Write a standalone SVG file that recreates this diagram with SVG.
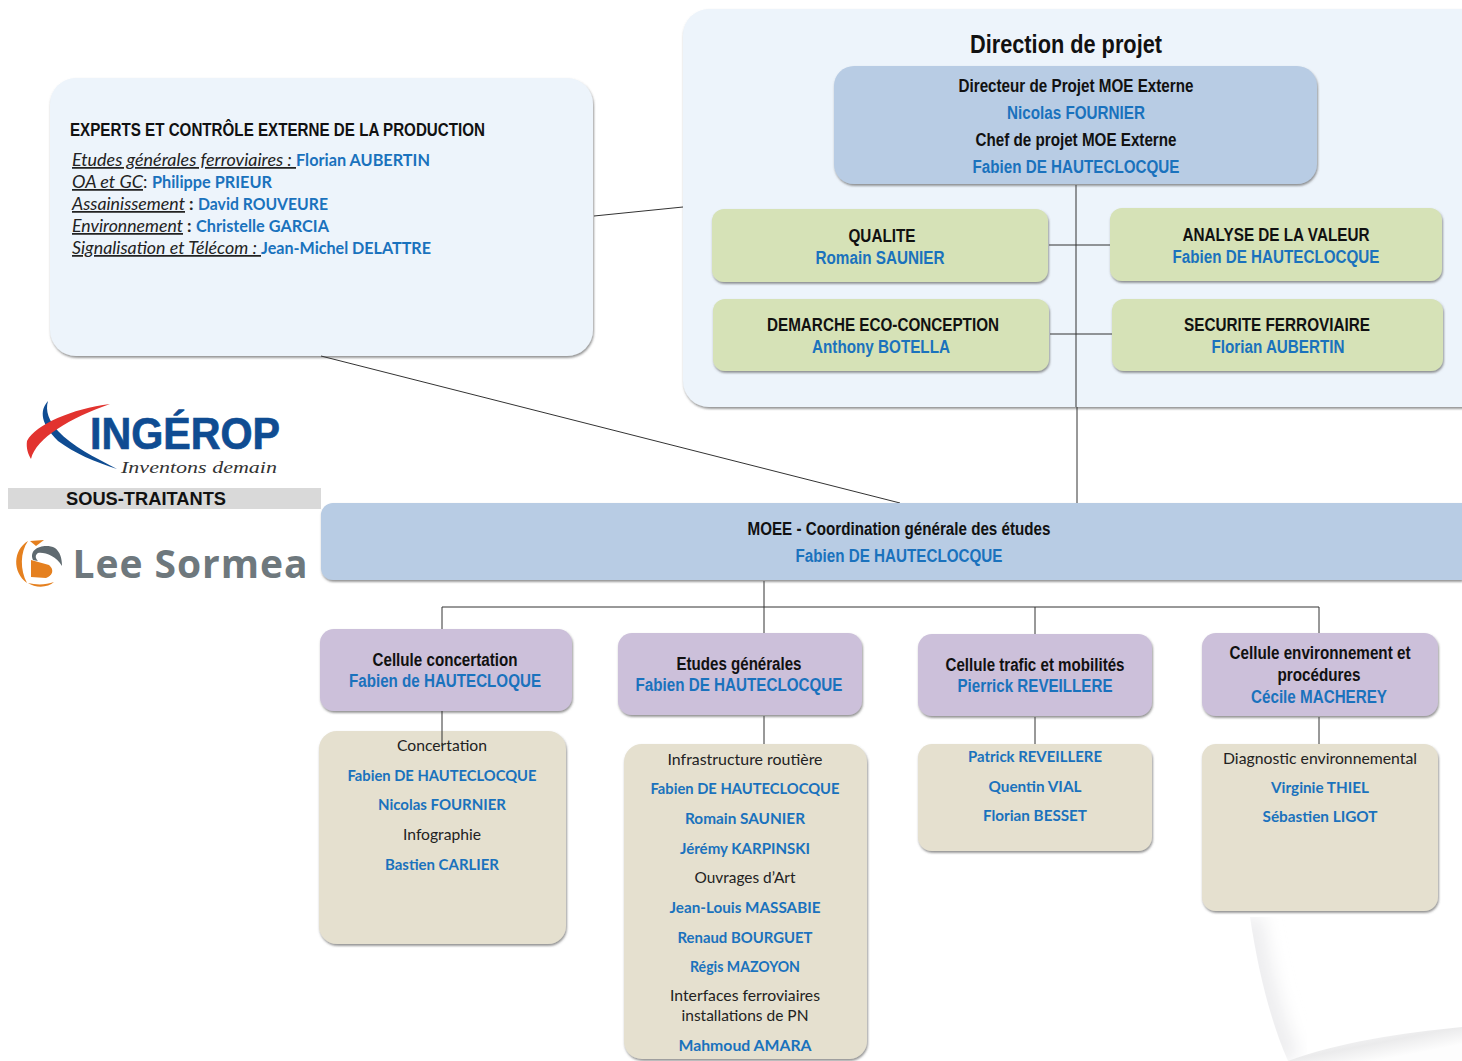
<svg xmlns="http://www.w3.org/2000/svg" width="1462" height="1061" viewBox="0 0 1462 1061">
<style>
text{font-family:"Liberation Sans",Arial,sans-serif;font-size:18px;fill:#111;text-anchor:middle}
.b{font-weight:700}
.n{font-weight:700;fill:#1a72bd}
.c{font-family:Lato,"Liberation Sans",sans-serif;font-size:16px;fill:#222}
.cn{font-family:Lato,"Liberation Sans",sans-serif;font-size:16px;font-weight:700;fill:#1a72bd}
.e{font-size:17.5px}
.l{text-anchor:start}
.u{font-style:italic;text-decoration:underline}
.pan{fill:#edf4fb;filter:url(#s)}
.blue{fill:#b8cce4;filter:url(#s)}
.green{fill:#d6e2b7;filter:url(#s)}
.pur{fill:#ccc0da;filter:url(#s)}
.bei{fill:#e5e0cf;filter:url(#s)}
.ln{stroke:#333;stroke-width:1;fill:none}
</style>
<defs>
<filter id="s" x="-5%" y="-5%" width="110%" height="115%"><feDropShadow dx="0.8" dy="1.8" stdDeviation="0.8" flood-color="#555" flood-opacity=".65"/></filter>
<filter id="bl" x="-50%" y="-50%" width="200%" height="200%"><feGaussianBlur stdDeviation="9"/></filter>
<clipPath id="c1"><path d="M1250 917C1258 970 1270 1020 1288 1061L1462 1061V917Z"/></clipPath>
<linearGradient id="f2" gradientUnits="userSpaceOnUse" x1="1370" y1="1030" x2="1376" y2="1061"><stop offset="0" stop-color="#f6f6f7"/><stop offset=".45" stop-color="#ebebec"/><stop offset="1" stop-color="#fdfdfd"/></linearGradient>
</defs>
<rect width="1462" height="1061" fill="#fff"/>
<g id="page-curl">
<path clip-path="url(#c1)" d="M1250 917C1258 970 1270 1020 1288 1061" fill="none" stroke="#ececee" stroke-width="24" filter="url(#bl)"/>
<path d="M1288 1061C1340 1042 1400 1033 1462 1027V1061Z" fill="url(#f2)"/>
</g>
<g id="panel-direction"><rect class="pan" x="683" y="9" width="820" height="398" rx="26"/><text x="1066" y="53" class="b" style="font-size:25px" textLength="192" lengthAdjust="spacingAndGlyphs">Direction de projet</text></g>
<g id="experts">
<rect class="pan" x="50" y="78" width="543" height="278" rx="26"/>
<text x="70" y="135.500" class="b l" textLength="415" lengthAdjust="spacingAndGlyphs">EXPERTS ET CONTRÔLE EXTERNE DE LA PRODUCTION</text>
<text x="72" y="166" class="c l u e" xml:space="preserve" textLength="224" lengthAdjust="spacingAndGlyphs">Etudes générales ferroviaires : </text><text x="296" y="166" class="cn l e" textLength="134" lengthAdjust="spacingAndGlyphs">Florian AUBERTIN</text>
<text x="72" y="188" class="c l u e" textLength="71" lengthAdjust="spacingAndGlyphs">OA et GC</text><text x="143" y="188" class="c l e">:</text><text x="152" y="188" class="cn l e" textLength="120" lengthAdjust="spacingAndGlyphs">Philippe PRIEUR</text>
<text x="72" y="210" class="c l u e" textLength="113" lengthAdjust="spacingAndGlyphs">Assainissement</text><text x="189" y="210" class="c l b e">:</text><text x="198" y="210" class="cn l e" textLength="130" lengthAdjust="spacingAndGlyphs">David ROUVEURE</text>
<text x="72" y="232" class="c l u e" textLength="111" lengthAdjust="spacingAndGlyphs">Environnement</text><text x="187" y="232" class="c l b e">:</text><text x="196" y="232" class="cn l e" textLength="133" lengthAdjust="spacingAndGlyphs">Christelle GARCIA</text>
<text x="72" y="254" class="c l u e" xml:space="preserve" textLength="189" lengthAdjust="spacingAndGlyphs">Signalisation et Télécom : </text><text x="261" y="254" class="cn l e" textLength="170" lengthAdjust="spacingAndGlyphs">Jean-Michel DELATTRE</text>
</g>
<g id="connectors" class="ln">
<path d="M594 216L683 207"/>
<path d="M321 356L900 503"/>
<path d="M1076 185V407"/>
<path d="M1077 407V503"/>
<path d="M1049 245H1110"/>
<path d="M1050 334H1112"/>
<path d="M442 629V607H1319V633"/>
<path d="M764 581V633"/>
<path d="M1035 607V634"/>
<path d="M764 716V744"/>
<path d="M1035 717V744"/>
<path d="M1319 717V744"/>
</g>
<g id="directeur"><rect class="blue" x="834" y="66" width="483" height="118" rx="20"/>
<text x="1076" y="91.500" class="b" textLength="235" lengthAdjust="spacingAndGlyphs">Directeur de Projet MOE Externe</text>
<text x="1076" y="119" class="n" textLength="138" lengthAdjust="spacingAndGlyphs">Nicolas FOURNIER</text>
<text x="1076" y="146" class="b" textLength="201" lengthAdjust="spacingAndGlyphs">Chef de projet MOE Externe</text>
<text x="1076" y="173" class="n" textLength="207" lengthAdjust="spacingAndGlyphs">Fabien DE HAUTECLOCQUE</text></g>
<g id="qualite"><rect class="green" x="712" y="209" width="336" height="73" rx="12"/><text x="882" y="241.500" class="b" textLength="67" lengthAdjust="spacingAndGlyphs">QUALITE</text><text x="880" y="263.500" class="n" textLength="129" lengthAdjust="spacingAndGlyphs">Romain SAUNIER</text></g>
<g id="analyse"><rect class="green" x="1110" y="208" width="332" height="73" rx="12"/><text x="1276" y="240.500" class="b" textLength="187" lengthAdjust="spacingAndGlyphs">ANALYSE DE LA VALEUR</text><text x="1276" y="262.500" class="n" textLength="207" lengthAdjust="spacingAndGlyphs">Fabien DE HAUTECLOCQUE</text></g>
<g id="eco"><rect class="green" x="713" y="299" width="336" height="72" rx="12"/><text x="883" y="331" class="b" textLength="232" lengthAdjust="spacingAndGlyphs">DEMARCHE ECO-CONCEPTION</text><text x="881" y="352.500" class="n" textLength="138" lengthAdjust="spacingAndGlyphs">Anthony BOTELLA</text></g>
<g id="securite"><rect class="green" x="1112" y="299" width="331" height="72" rx="12"/><text x="1277" y="331" class="b" textLength="186" lengthAdjust="spacingAndGlyphs">SECURITE FERROVIAIRE</text><text x="1278" y="352.500" class="n" textLength="133" lengthAdjust="spacingAndGlyphs">Florian AUBERTIN</text></g>
<g id="logo-ingerop">
<path d="M48 401C39 411 41 424 58 441C74 453 95 462 117 469C94 457 72 446 58 431C49 421 45 411 48 401Z" fill="#0f4c92"/>
<path d="M110 404C72 409 36 424 27 441C26 448 28 454 31 459C36 438 70 418 110 404Z" fill="#e2332f"/>
<text x="185" y="449" class="b" style="font-size:44px;fill:#0f4c92;stroke:#0f4c92;stroke-width:.7" textLength="190" lengthAdjust="spacingAndGlyphs">INGÉROP</text>
<text x="199" y="473" style="font-family:'Liberation Serif',serif;font-style:italic;font-size:16px;fill:#333" textLength="156" lengthAdjust="spacingAndGlyphs">Inventons demain</text>
</g>
<g id="sous-traitants"><rect x="8" y="488" width="313" height="21" fill="#d9d9d9"/><text x="146" y="505" class="b" textLength="160" lengthAdjust="spacingAndGlyphs">SOUS-TRAITANTS</text></g>
<g id="logo-lee-sormea">
<path d="M28 541C13 550 12 572 27 583C20 570 20 552 28 541Z" fill="#e5801f"/>
<path d="M30 541L44 540L36 546Z" fill="#e5801f"/>
<path d="M28 583C35 588 48 588 54 582C46 585 36 585 28 583Z" fill="#e5801f"/>
<path d="M31 577V560L49 565C55 570 52 576 46 578Z" fill="#e5801f"/>
<path d="M33 560C28 548 45 543 55 548C60 552 62 558 62 566C56 556 45 552 38 553C35 555 35 558 38 561Z" fill="#5f6a70"/>
<text x="190" y="578" style="font-family:'Open Sans',sans-serif;font-weight:700;font-size:39px;fill:#6e787d" textLength="235" lengthAdjust="spacing">Lee Sormea</text>
</g>
<g id="moee"><path class="blue" d="M333 503H1462V580H333A12 12 0 0 1 321 568V515A12 12 0 0 1 333 503Z"/>
<text x="899" y="535" class="b" textLength="303" lengthAdjust="spacingAndGlyphs">MOEE - Coordination générale des études</text>
<text x="899" y="562" class="n" textLength="207" lengthAdjust="spacingAndGlyphs">Fabien DE HAUTECLOCQUE</text></g>
<g id="cell-concertation"><rect class="pur" x="320" y="629" width="252" height="82" rx="14"/><text x="445" y="666" class="b" textLength="145" lengthAdjust="spacingAndGlyphs">Cellule concertation</text><text x="445" y="687" class="n" textLength="192" lengthAdjust="spacingAndGlyphs">Fabien de HAUTECLOQUE</text></g>
<g id="cell-etudes"><rect class="pur" x="618" y="633" width="244" height="82" rx="14"/><text x="739" y="670" class="b" textLength="125" lengthAdjust="spacingAndGlyphs">Etudes générales</text><text x="739" y="691" class="n" textLength="207" lengthAdjust="spacingAndGlyphs">Fabien DE HAUTECLOCQUE</text></g>
<g id="cell-trafic"><rect class="pur" x="918" y="634" width="234" height="82" rx="14"/><text x="1035" y="671" class="b" textLength="179" lengthAdjust="spacingAndGlyphs">Cellule trafic et mobilités</text><text x="1035" y="692" class="n" textLength="155" lengthAdjust="spacingAndGlyphs">Pierrick REVEILLERE</text></g>
<g id="cell-env"><rect class="pur" x="1202" y="633" width="236" height="83" rx="14"/><text x="1320" y="659" class="b" textLength="181" lengthAdjust="spacingAndGlyphs">Cellule environnement et</text><text x="1319" y="681" class="b" textLength="83" lengthAdjust="spacingAndGlyphs">procédures</text><text x="1319" y="703" class="n" textLength="136" lengthAdjust="spacingAndGlyphs">Cécile MACHEREY</text></g>
<g id="team-concertation"><rect class="bei" x="319" y="731" width="247" height="213" rx="18"/>
<text x="442" y="751" class="c" textLength="90" lengthAdjust="spacingAndGlyphs">Concertation</text>
<text x="442" y="781" class="cn" textLength="189" lengthAdjust="spacingAndGlyphs">Fabien DE HAUTECLOCQUE</text>
<text x="442" y="810" class="cn" textLength="128" lengthAdjust="spacingAndGlyphs">Nicolas FOURNIER</text>
<text x="442" y="840" class="c" textLength="78" lengthAdjust="spacingAndGlyphs">Infographie</text>
<text x="442" y="870" class="cn" textLength="114" lengthAdjust="spacingAndGlyphs">Bastien CARLIER</text></g>
<g id="team-etudes"><path class="bei" d="M642 744H850A18 18 0 0 1 867 762V1040A18 18 0 0 1 850 1059H642A18 18 0 0 1 624 1040V762A18 18 0 0 1 642 744Z"/>
<text x="745" y="765" class="c" textLength="155" lengthAdjust="spacingAndGlyphs">Infrastructure routière</text>
<text x="745" y="794" class="cn" textLength="189" lengthAdjust="spacingAndGlyphs">Fabien DE HAUTECLOCQUE</text>
<text x="745" y="824" class="cn" textLength="120" lengthAdjust="spacingAndGlyphs">Romain SAUNIER</text>
<text x="745" y="854" class="cn" textLength="130" lengthAdjust="spacingAndGlyphs">Jérémy KARPINSKI</text>
<text x="745" y="883" class="c" textLength="101" lengthAdjust="spacingAndGlyphs">Ouvrages d’Art</text>
<text x="745" y="913" class="cn" textLength="151" lengthAdjust="spacingAndGlyphs">Jean-Louis MASSABIE</text>
<text x="745" y="943" class="cn" textLength="135" lengthAdjust="spacingAndGlyphs">Renaud BOURGUET</text>
<text x="745" y="972" class="cn" textLength="110" lengthAdjust="spacingAndGlyphs">Régis MAZOYON</text>
<text x="745" y="1001" class="c" textLength="150" lengthAdjust="spacingAndGlyphs">Interfaces ferroviaires</text>
<text x="745" y="1021" class="c" textLength="127" lengthAdjust="spacingAndGlyphs">installations de PN</text>
<text x="745" y="1051" class="cn" textLength="133" lengthAdjust="spacingAndGlyphs">Mahmoud AMARA</text></g>
<g id="team-trafic"><rect class="bei" x="918" y="744" width="234" height="107" rx="14"/>
<text x="1035" y="762" class="cn" textLength="134" lengthAdjust="spacingAndGlyphs">Patrick REVEILLERE</text>
<text x="1035" y="792" class="cn" textLength="93" lengthAdjust="spacingAndGlyphs">Quentin VIAL</text>
<text x="1035" y="821" class="cn" textLength="104" lengthAdjust="spacingAndGlyphs">Florian BESSET</text></g>
<g id="team-env"><rect class="bei" x="1202" y="744" width="236" height="167" rx="14"/>
<text x="1320" y="763.500" class="c" textLength="194" lengthAdjust="spacingAndGlyphs">Diagnostic environnemental</text>
<text x="1320" y="793" class="cn" textLength="98" lengthAdjust="spacingAndGlyphs">Virginie THIEL</text>
<text x="1320" y="822" class="cn" textLength="115" lengthAdjust="spacingAndGlyphs">Sébastien LIGOT</text></g>
<path id="line-over" class="ln" d="M442 711V746"/>
</svg>
